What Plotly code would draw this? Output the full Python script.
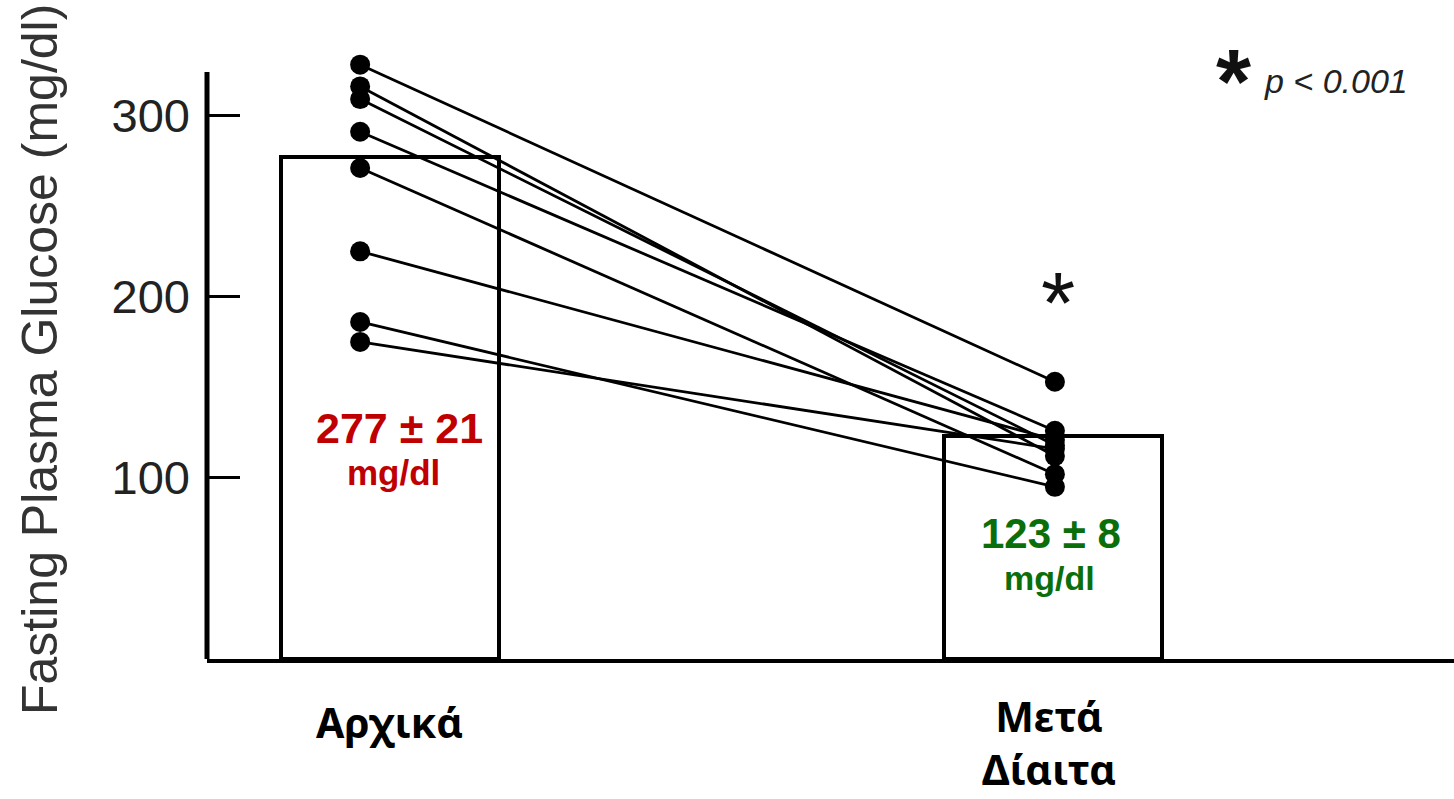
import plotly.graph_objects as go

# Groups (bar centres on a numeric x axis) and their summary values
groups = ["Αρχικά", "Μετά<br>Δίαιτα"]
group_pos = [0, 1]
mean_glucose = [277, 123]
sem_glucose = [21, 8]

# Individual patients: fasting plasma glucose before and after the diet
baseline_glucose = [328, 316, 309, 291, 271, 225, 186, 175]
diet_glucose = [153, 112, 118, 126, 102, 121, 95, 116]

y_ticks = [100, 200, 300]
Y_AXIS_TOP = 324

# horizontal placement of the paired points
X_BEFORE = -0.045
X_AFTER = 1.003
BAR_WIDTH = 0.33

fig = go.Figure()

fig.add_trace(go.Bar(
    x=group_pos, y=mean_glucose, width=BAR_WIDTH,
    marker=dict(color="white", line=dict(color="black", width=4)),
    hoverinfo="skip", showlegend=False,
))

for before, after in zip(baseline_glucose, diet_glucose):
    fig.add_trace(go.Scatter(
        x=[X_BEFORE, X_AFTER], y=[before, after],
        mode="lines+markers",
        line=dict(color="black", width=2.8),
        marker=dict(color="black", size=20),
        cliponaxis=False, showlegend=False,
    ))


def px_x(px):
    return (px - 207) / 1247


def px_y(py):
    return (659 - py) / 659


label_font = dict(family="Noto Sans", size=41, color="black")
common = dict(showarrow=False, xanchor="center", yanchor="middle")
annotations = [
    # category names under the bars
    dict(x=group_pos[0], y=px_y(722), xref="x", yref="paper",
         text=f"<b>{groups[0]}</b>", font=label_font, **common),
    dict(x=group_pos[1] - 0.006, y=px_y(799), xref="x", yref="paper",
         text="<br>".join(f"<b>{part}</b>" for part in groups[1].split("<br>")),
         font=label_font, showarrow=False, xanchor="center", yanchor="bottom"),
    # mean ± SEM labels
    dict(x=0.014, y=127.5, xref="x", yref="y",
         text=f"<b>{mean_glucose[0]} ± {sem_glucose[0]}</b>",
         font=dict(family="Liberation Sans", size=43, color="#c00000"), **common),
    dict(x=0.005, y=103, xref="x", yref="y", text="<b>mg/dl</b>",
         font=dict(family="Liberation Sans", size=35, color="#c00000"), **common),
    dict(x=0.997, y=69.5, xref="x", yref="y",
         text=f"<b>{mean_glucose[1]} ± {sem_glucose[1]}</b>",
         font=dict(family="Liberation Sans", size=42, color="#0a6e0a"), **common),
    dict(x=0.995, y=44.5, xref="x", yref="y", text="<b>mg/dl</b>",
         font=dict(family="Liberation Sans", size=34, color="#0a6e0a"), **common),
    # significance marker above the diet group
    dict(x=1.007, y=196.5, xref="x", yref="y", text="*",
         font=dict(family="Liberation Sans", size=88, color="#111"), **common),
    # key
    dict(x=px_x(1233), y=px_y(82), xref="paper", yref="paper", text="<b>*</b>",
         font=dict(family="Liberation Sans", size=90, color="#111"), **common),
    dict(x=px_x(1262), y=px_y(81), xref="paper", yref="paper",
         text="<i>p &lt; 0.001</i>", showarrow=False, xanchor="left", yanchor="middle",
         font=dict(family="Liberation Sans", size=34, color="#222")),
    # y axis title
    dict(x=px_x(40), y=px_y(360), xref="paper", yref="paper",
         text="Fasting Plasma Glucose (mg/dl)", textangle=-90,
         font=dict(family="Liberation Sans", size=50, color="#333"), **common),
]

fig.update_layout(
    width=1454, height=799,
    margin=dict(l=207, r=0, t=0, b=140),
    paper_bgcolor="white", plot_bgcolor="white",
    bargap=0, showlegend=False,
    annotations=annotations,
    shapes=[dict(type="line", xref="paper", yref="y", x0=0, x1=0, y0=0, y1=Y_AXIS_TOP,
                 line=dict(color="black", width=5))],
    xaxis=dict(range=[-0.276, 1.605], showline=True, linewidth=4, linecolor="black",
               showticklabels=False, ticks="", showgrid=False, zeroline=False),
    yaxis=dict(range=[0, 363.7], showline=False,
               tickvals=y_ticks, ticks="inside", ticklen=33, tickwidth=3, tickcolor="black",
               tickfont=dict(family="Liberation Sans", size=47, color="#222"),
               ticklabelstandoff=16, showgrid=False, zeroline=False),
)

fig.write_html("out.html")
